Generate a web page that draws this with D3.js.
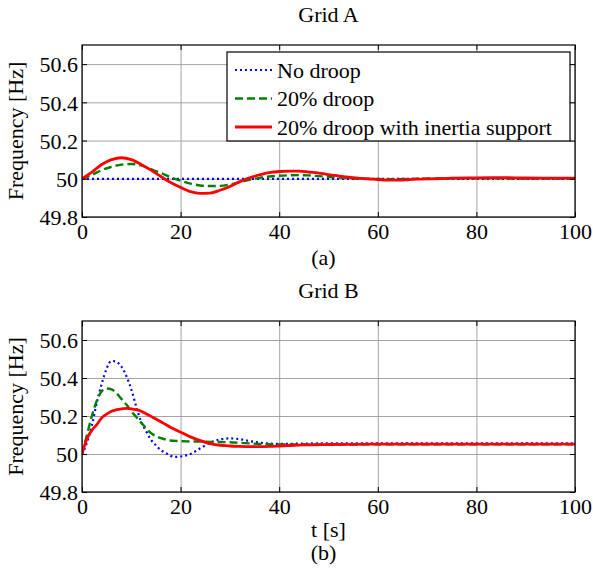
<!DOCTYPE html>
<html>
<head>
<meta charset="utf-8">
<script src="https://cdn.jsdelivr.net/npm/d3@7"></script>
<style>
  body { margin: 0; background: #fff; }
</style>
</head>
<body>
<div id="graph"></div>
<script>

//------ data --------------------------------------
var seriesNames = ["No droop", "20% droop", "20% droop with inertia support"];
var xTicks = [0, 20, 40, 60, 80, 100];
var yTicks = [49.8, 50, 50.2, 50.4, 50.6];

// Grid A
var tNoDroopA = [0, 100];
var noDroopA = [50, 50];
var tA = [0, 2, 4, 6, 8, 10, 12, 14, 16, 18, 20, 22, 24, 26, 28, 30, 32, 34, 36, 38, 40,
          42, 44, 46, 48, 50, 52, 54, 56, 58, 60, 62, 64, 66, 68, 70, 75, 80, 85, 90, 95, 100];
var droopA = [50, 50.02, 50.045, 50.063, 50.074, 50.077, 50.07, 50.05, 50.03, 50.008, 49.99,
              49.975, 49.965, 49.962, 49.963, 49.97, 49.982, 49.995, 50.005, 50.012, 50.016,
              50.018, 50.019, 50.018, 50.014, 50.01, 50.006, 50.003, 50.001, 50, 49.999,
              49.998, 49.998, 49.999, 50, 50.001, 50.002, 50.002, 50.002, 50.001, 50.001, 50.001];
var inertiaA = [50, 50.035, 50.075, 50.1, 50.11, 50.1, 50.075, 50.045, 50.012, 49.98, 49.955,
                49.933, 49.924, 49.925, 49.94, 49.96, 49.985, 50.005, 50.02, 50.032, 50.038,
                50.04, 50.04, 50.035, 50.03, 50.022, 50.015, 50.008, 50.003, 50, 49.996,
                49.993, 49.993, 49.995, 49.998, 50, 50.003, 50.005, 50.006, 50.004, 50.003, 50.003];

// Grid B
var tB = [0, 1, 2, 3, 4, 5, 6, 7, 8, 9, 10, 11, 12, 13, 14, 15, 16, 17, 18, 19, 20,
          22, 24, 26, 28, 30, 32, 34, 36, 38, 40, 45, 50, 55, 60, 70, 80, 90, 100];
var noDroopB = [50, 50.06, 50.15, 50.27, 50.37, 50.45, 50.49, 50.485, 50.46, 50.41, 50.34,
                50.25, 50.17, 50.12, 50.075, 50.045, 50.02, 50.005, 49.99, 49.985, 49.987,
                50, 50.03, 50.06, 50.077, 50.082, 50.078, 50.068, 50.06, 50.055, 50.053,
                50.055, 50.056, 50.056, 50.056, 50.056, 50.056, 50.056, 50.056];
var droopB = [50, 50.1, 50.2, 50.28, 50.33, 50.345, 50.34, 50.32, 50.29, 50.26, 50.225,
              50.195, 50.165, 50.135, 50.11, 50.094, 50.083, 50.076, 50.071, 50.069, 50.067,
              50.066, 50.065, 50.064, 50.063, 50.062, 50.059, 50.056, 50.053, 50.051, 50.05,
              50.05, 50.05, 50.05, 50.051, 50.051, 50.051, 50.051, 50.051];
var inertiaB = [50, 50.08, 50.125, 50.155, 50.19, 50.21, 50.225, 50.233, 50.238, 50.24, 50.238,
                50.233, 50.225, 50.212, 50.198, 50.184, 50.17, 50.155, 50.14, 50.127, 50.115,
                50.09, 50.07, 50.055, 50.046, 50.042, 50.04, 50.039, 50.039, 50.04, 50.042,
                50.048, 50.05, 50.051, 50.052, 50.052, 50.052, 50.052, 50.052];

//------ layout -----------------
var width = 593;
var height = 572;
var fontSize = 22;
var font = "Liberation Serif";

var colors = ["#0000ff", "#008000", "#ff0000"];
var dashes = ["2,3", "8,4", null];
var widths = [2.2, 2.4, 2.8];

var svg = d3.select("#graph")
  .append("svg")
  .attr("width", width)
  .attr("height", height)
  .attr("font-family", font);

var x = d3.scaleLinear().domain([0, 100]).range([82, 575]);

// d3 axis puts its own sans-serif on the group, put the serif back on the labels
function serifLabels(s) {
  s.attr("font-family", font);
  s.selectAll("text").attr("font-family", font).attr("font-size", fontSize).attr("fill", "#000");
}

// one panel = one box with grid, ticks, curves
function drawPanel(top, bottom, title, caption, xLabel, curves, withLegend, id) {
  var y = d3.scaleLinear().domain([49.8, 50.7]).range([bottom, top]);
  var g = svg.append("g");

  g.append("clipPath").attr("id", id)
    .append("rect")
    .attr("x", x(0)).attr("y", top)
    .attr("width", x(100) - x(0)).attr("height", bottom - top);

  // grid lines
  g.append("g")
    .call(d3.axisBottom(x).tickValues(xTicks).tickSize(-(bottom - top)).tickFormat(""))
    .attr("transform", "translate(0," + bottom + ")")
    .call(function(s) {
      s.select(".domain").remove();
      s.selectAll("line").attr("stroke", "#9a9a9a").attr("stroke-width", 0.9);
    });
  g.append("g")
    .call(d3.axisLeft(y).tickValues(yTicks).tickSize(-(x(100) - x(0))).tickFormat(""))
    .attr("transform", "translate(" + x(0) + ",0)")
    .call(function(s) {
      s.select(".domain").remove();
      s.selectAll("line").attr("stroke", "#9a9a9a").attr("stroke-width", 0.9);
    });

  // curves
  var line = d3.line()
    .x(function(d) { return x(d[0]); })
    .y(function(d) { return y(d[1]); })
    .curve(d3.curveMonotoneX);

  curves.forEach(function(c, i) {
    var pts = c.t.map(function(t, k) { return [t, c.v[k]]; });
    g.append("path")
      .attr("d", line(pts))
      .attr("clip-path", "url(#" + id + ")")
      .attr("fill", "none")
      .attr("stroke", colors[i])
      .attr("stroke-width", widths[i])
      .attr("stroke-dasharray", dashes[i]);
  });

  // inward ticks on all four sides
  var tk = 5;
  g.append("g").attr("transform", "translate(0," + bottom + ")")
    .call(d3.axisBottom(x).tickValues(xTicks).tickSizeInner(-tk).tickSizeOuter(0))
    .call(function(s) {
      s.select(".domain").remove();
      serifLabels(s);
      s.selectAll("text").attr("dy", null).attr("y", 22);
    });
  g.append("g").attr("transform", "translate(0," + top + ")")
    .call(d3.axisTop(x).tickValues(xTicks).tickSizeInner(-tk).tickSizeOuter(0).tickFormat(""))
    .call(function(s) { s.select(".domain").remove(); });
  g.append("g").attr("transform", "translate(" + x(0) + ",0)")
    .call(d3.axisLeft(y).tickValues(yTicks).tickSizeInner(-tk).tickSizeOuter(0)
      .tickFormat(function(d) { return d3.format("")(+d.toFixed(1)); }))
    .call(function(s) {
      s.select(".domain").remove();
      serifLabels(s);
      s.selectAll("text").attr("x", -4).attr("dy", "0.35em");
    });
  g.append("g").attr("transform", "translate(" + x(100) + ",0)")
    .call(d3.axisRight(y).tickValues(yTicks).tickSizeInner(-tk).tickSizeOuter(0).tickFormat(""))
    .call(function(s) { s.select(".domain").remove(); });

  // box
  g.append("rect")
    .attr("x", x(0)).attr("y", top)
    .attr("width", x(100) - x(0)).attr("height", bottom - top)
    .attr("fill", "none").attr("stroke", "#000").attr("stroke-width", 1.2);

  // texts
  var cx = (x(0) + x(100)) / 2;
  g.append("text").attr("x", cx).attr("y", top - 23)
    .attr("text-anchor", "middle").attr("font-size", fontSize).text(title);
  g.append("text")
    .attr("transform", "translate(23," + ((top + bottom) / 2) + ") rotate(-90)")
    .attr("text-anchor", "middle").attr("font-size", fontSize).text("Frequency [Hz]");
  var capY = bottom + 48;
  if (xLabel) {
    g.append("text").attr("x", cx).attr("y", bottom + 45)
      .attr("text-anchor", "middle").attr("font-size", fontSize).text(xLabel);
    capY = bottom + 68;
  }
  g.append("text").attr("x", cx - 5).attr("y", capY)
    .attr("text-anchor", "middle").attr("font-size", fontSize).text(caption);

  //legend
  if (withLegend) {
    var lg = g.append("g");
    lg.append("rect")
      .attr("x", 227).attr("y", 52).attr("width", 343).attr("height", 89)
      .attr("fill", "#fff").attr("stroke", "#000").attr("stroke-width", 1.2);
    seriesNames.forEach(function(name, i) {
      var ly = 70 + i * 28.5;
      lg.append("line")
        .attr("x1", 235).attr("x2", 272).attr("y1", ly).attr("y2", ly)
        .attr("stroke", colors[i]).attr("stroke-width", widths[i])
        .attr("stroke-dasharray", dashes[i]);
      lg.append("text").attr("x", 277).attr("y", ly).attr("dy", "0.35em")
        .attr("font-size", fontSize).text(name);
    });
  }
}

drawPanel(45, 217, "Grid A", "(a)", null, [
  { t: tNoDroopA, v: noDroopA },
  { t: tA, v: droopA },
  { t: tA, v: inertiaA }
], true, "clipA");

drawPanel(321, 492, "Grid B", "(b)", "t [s]", [
  { t: tB, v: noDroopB },
  { t: tB, v: droopB },
  { t: tB, v: inertiaB }
], false, "clipB");

</script>
</body>
</html>
